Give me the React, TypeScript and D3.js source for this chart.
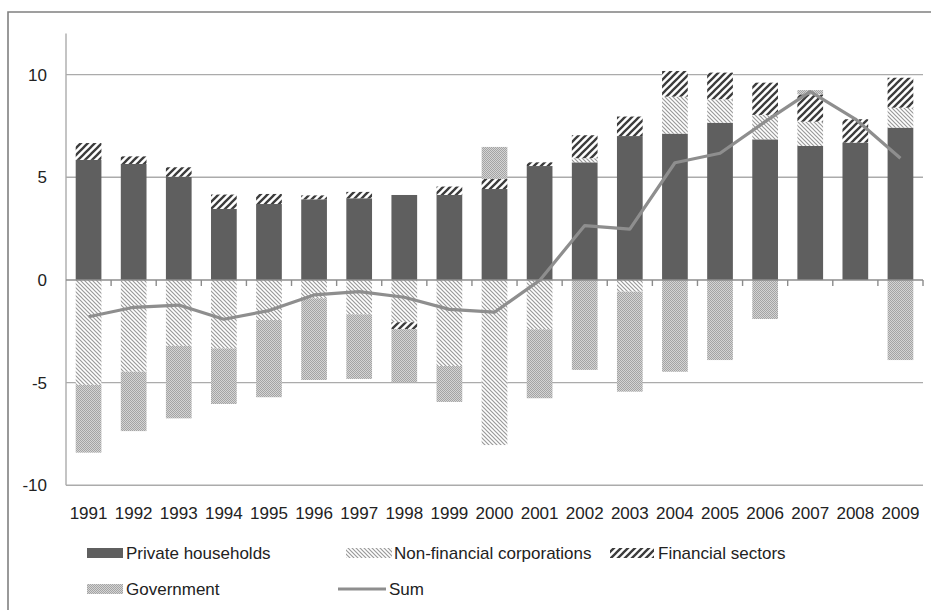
import React from "react";
import * as d3 from "d3";

// values
const years = [
  "1991", "1992", "1993", "1994", "1995", "1996", "1997", "1998", "1999", "2000",
  "2001", "2002", "2003", "2004", "2005", "2006", "2007", "2008", "2009",
];
const privateHouseholds = [
  5.85, 5.65, 5.03, 3.46, 3.7, 3.93, 3.98, 4.14, 4.14, 4.43,
  5.55, 5.73, 7.01, 7.13, 7.66, 6.85, 6.53, 6.69, 7.42,
];
const nonFinancial = [
  -5.11, -4.47, -3.21, -3.33, -1.95, -0.89, -1.67, -2.06, -4.19, -8.04,
  -2.4, 0.2, -0.57, 1.8, 1.14, 1.19, 1.18, 0, 0.97,
];
const financial = [
  0.82, 0.37, 0.46, 0.7, 0.49, 0.19, 0.31, -0.33, 0.41, 0.49,
  0.18, 1.12, 0.95, 1.25, 1.3, 1.57, 1.33, 1.14, 1.46,
];
const government = [
  -3.3, -2.89, -3.53, -2.71, -3.76, -3.98, -3.15, -2.59, -1.75, 1.56,
  -3.36, -4.38, -4.87, -4.47, -3.9, -1.9, 0.21, 0, -3.9,
];
const sum = [
  -1.79, -1.33, -1.22, -1.91, -1.49, -0.73, -0.57, -0.84, -1.43, -1.57,
  -0.02, 2.65, 2.48, 5.71, 6.17, 7.71, 9.17, 7.84, 5.93,
];
const yTicks = [-10, -5, 0, 5, 10];

const seriesKeys = ["ph", "nfc", "fin", "gov"];
const fills: Record<string, string> = {
  ph: "#5f5f5f",
  nfc: "url(#pat-nfc)",
  fin: "url(#pat-fin)",
  gov: "url(#pat-gov)",
};

const W = 931;
const H = 610;
const plot = { left: 66, right: 923, top: 33.6, bottom: 485.3 };
const FONT = "'Liberation Sans', Arial, sans-serif";

export default function App() {
  const rows = years.map((y, i) => ({
    year: y,
    ph: privateHouseholds[i],
    nfc: nonFinancial[i],
    fin: financial[i],
    gov: government[i],
  }));

  const x = d3
    .scaleBand<string>()
    .domain(years)
    .range([plot.left, plot.right])
    .paddingInner(0.43)
    .paddingOuter(0.215);
  const band = d3.scaleBand<string>().domain(years).range([plot.left, plot.right]);
  const y = d3.scaleLinear().domain([-10, 12]).range([plot.bottom, plot.top]);

  const stacked = d3
    .stack<any>()
    .keys(seriesKeys)
    .offset(d3.stackOffsetDiverging)(rows);

  const line = d3
    .line<number>()
    .x((_, i) => (band(years[i]) as number) + band.bandwidth() / 2)
    .y((d) => y(d));

  return (
    <svg
      width={W}
      height={H}
      style={{ position: "absolute", left: 0, top: 0, background: "#fff" }}
      fontFamily={FONT}
    >
      <defs>
        <pattern id="pat-nfc" patternUnits="userSpaceOnUse" width={4} height={4}>
          <rect width={4} height={4} fill="#fff" />
          <path
            d="M-1,-1 L5,5 M3,-1 L5,1 M-1,3 L1,5"
            stroke="#9a9a9a"
            strokeWidth={1.2}
          />
        </pattern>
        <pattern id="pat-fin" patternUnits="userSpaceOnUse" width={7} height={7}>
          <rect width={7} height={7} fill="#fff" />
          <path
            d="M-1,8 L8,-1 M-2,2 L2,-2 M5,9 L9,5"
            stroke="#3c3c3c"
            strokeWidth={2.3}
          />
        </pattern>
        <pattern id="pat-gov" patternUnits="userSpaceOnUse" width={2} height={2}>
          <rect width={2} height={2} fill="#d4d4d4" />
          <rect width={1} height={1} fill="#a4a4a4" />
          <rect x={1} y={1} width={1} height={1} fill="#a4a4a4" />
        </pattern>
      </defs>

      {/* outer frame */}
      <path d={`M8,${H + 2} V12 H${W + 2}`} fill="none" stroke="#808080" strokeWidth={1.6} />

      {/* gridlines */}
      {yTicks
        .filter((t) => t !== 0)
        .map((t) => (
          <line
            key={t}
            x1={plot.left}
            x2={plot.right}
            y1={y(t)}
            y2={y(t)}
            stroke="#ababab"
            strokeWidth={1.4}
          />
        ))}
      {/* y axis */}
      <line
        x1={plot.left}
        x2={plot.left}
        y1={plot.top}
        y2={plot.bottom}
        stroke="#ababab"
        strokeWidth={1.4}
      />
      {yTicks.map((t) => (
        <text
          key={t}
          x={47}
          y={y(t)}
          dy="0.36em"
          textAnchor="end"
          fontSize={17}
          fill="#222"
        >
          {t}
        </text>
      ))}

      {/* bars */}
      {stacked.map((s) => (
        <g key={s.key} fill={fills[s.key]}>
          {s.map((d, i) =>
            d[1] - d[0] === 0 ? null : (
              <rect
                key={i}
                x={x(years[i])}
                width={x.bandwidth()}
                y={y(Math.max(d[0], d[1]))}
                height={Math.abs(y(d[0]) - y(d[1]))}
              />
            )
          )}
        </g>
      ))}

      {/* zero axis with ticks between categories */}
      <line
        x1={plot.left}
        x2={plot.right}
        y1={y(0)}
        y2={y(0)}
        stroke="#8c8c8c"
        strokeWidth={1.4}
      />
      {years.map((yr) => {
        const tx = (band(yr) as number) + band.bandwidth();
        return (
          <line key={yr} x1={tx} x2={tx} y1={y(0)} y2={y(0) + 6} stroke="#8c8c8c" strokeWidth={1.4} />
        );
      })}

      {/* sum line */}
      <path
        d={line(sum) || ""}
        fill="none"
        stroke="#8e8e8e"
        strokeWidth={3.2}
        strokeLinejoin="round"
      />

      {/* category labels */}
      {years.map((yr) => (
        <text
          key={yr}
          x={(band(yr) as number) + band.bandwidth() / 2}
          y={519}
          textAnchor="middle"
          fontSize={17}
          fill="#222"
        >
          {yr}
        </text>
      ))}

      {/* legend */}
      <g fontSize={17} fill="#222">
        <rect x={87} y={548} width={36} height={10} fill={fills.ph} />
        <text x={126} y={553} dy="0.36em">Private households</text>

        <rect x={346} y={548} width={46} height={10} fill={fills.nfc} />
        <text x={394} y={553} dy="0.36em">Non-financial corporations</text>

        <rect x={610} y={548} width={44} height={10} fill={fills.fin} />
        <text x={658} y={553} dy="0.36em">Financial sectors</text>

        <rect x={87} y={584} width={36} height={10} fill={fills.gov} />
        <text x={126} y={589} dy="0.36em">Government</text>

        <line x1={338} x2={386} y1={589} y2={589} stroke="#8e8e8e" strokeWidth={3.2} />
        <text x={389} y={589} dy="0.36em">Sum</text>
      </g>
    </svg>
  );
}
